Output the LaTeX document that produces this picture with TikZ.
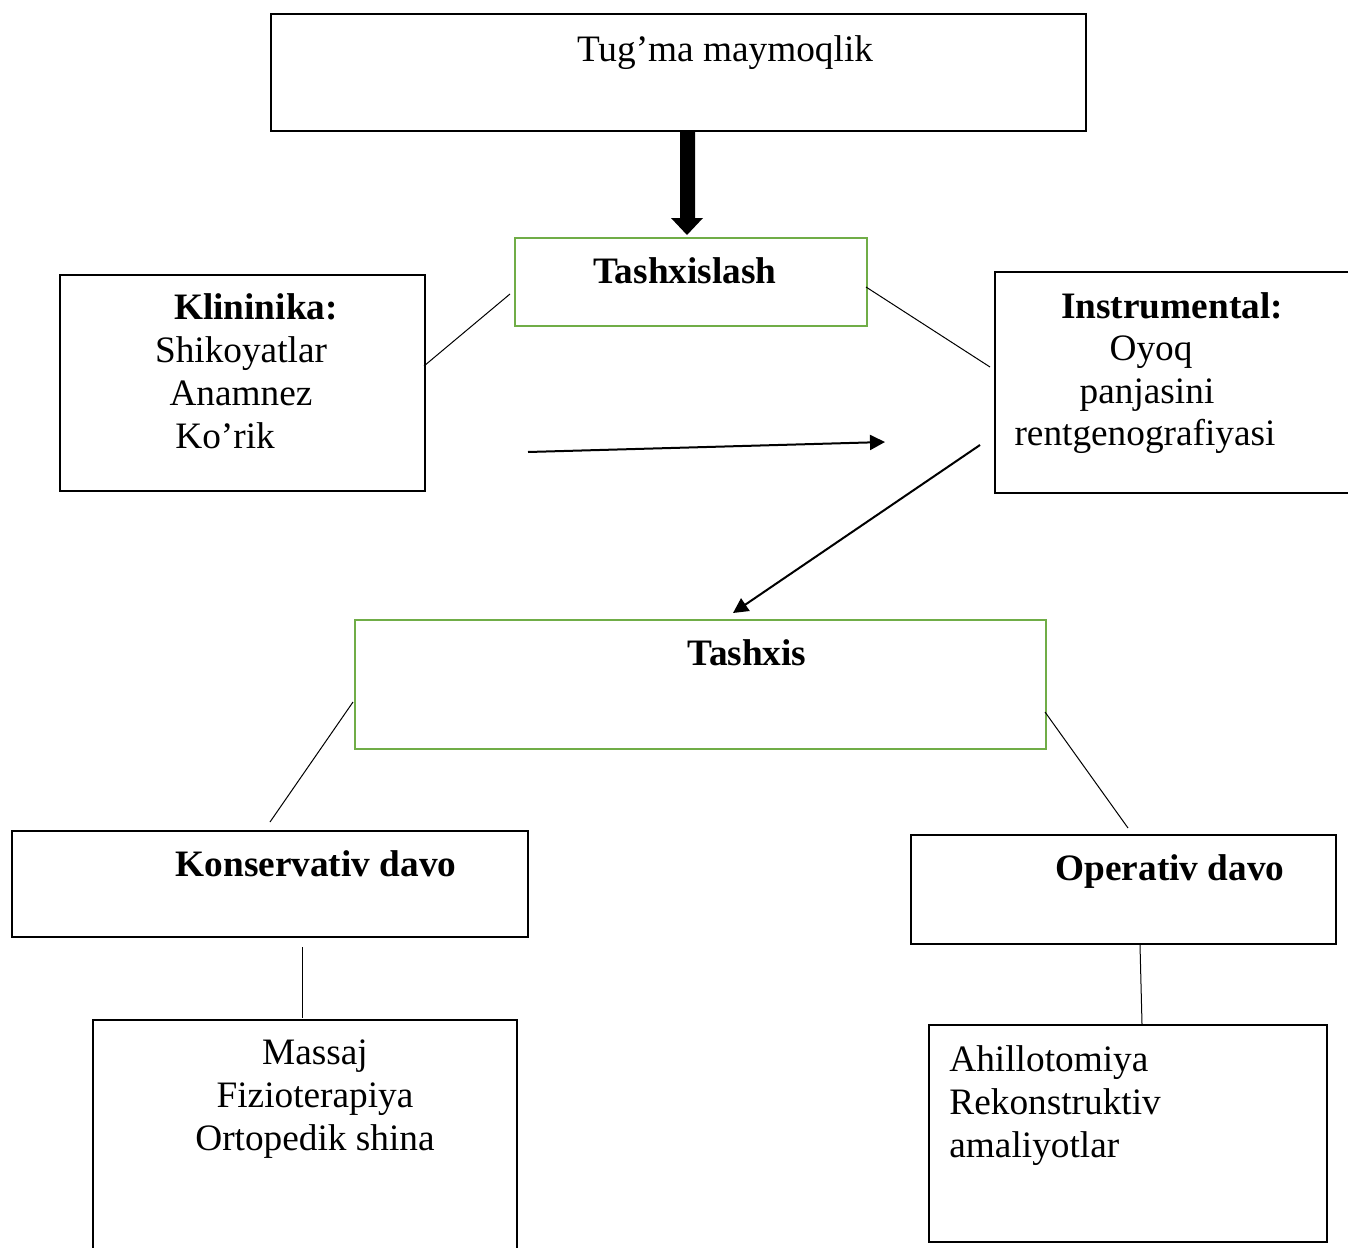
\documentclass[tikz,border=0pt]{standalone}
\usepackage{fontspec}
\setmainfont{Liberation Serif}
\usetikzlibrary{arrows.meta}
\definecolor{boxgreen}{RGB}{112,173,71}
\begin{document}
\begin{tikzpicture}[x=0.5pt,y=-0.5pt,
  font=\fontsize{18.65}{21.5}\selectfont,
  box/.style={draw=black, line width=1pt, inner sep=0pt, anchor=north west},
  gbox/.style={draw=boxgreen, line width=1pt, inner sep=0pt, anchor=north west},
  txt/.style={anchor=base, inner sep=0pt},
  ltxt/.style={anchor=base west, inner sep=0pt},
  thinline/.style={line width=0.5pt},
  arr/.style={line width=1pt, -{Triangle[length=7.5pt,width=7.5pt]}}]
\useasboundingbox (0,0) rectangle (1348,1247);
\clip (0,0) rectangle (1348,1247);
\fill[white] (0,0) rectangle (1348,1247);

% boxes
\node[box, minimum width=407.5pt, minimum height=58pt] (top) at (269.5,13.5) {};
\node[gbox, minimum width=176pt, minimum height=44pt] (tsl) at (513.5,236.5) {};
\node[box, minimum width=182.5pt, minimum height=108pt] (klin) at (58.5,273.5) {};
\node[box, minimum width=183pt, minimum height=110.5pt] (instr) at (993.5,270.5) {};
\node[gbox, minimum width=345.5pt, minimum height=64.5pt] (tsx) at (353.5,618.5) {};
\node[box, minimum width=258pt, minimum height=53pt] (kons) at (10.5,829.5) {};
\node[box, minimum width=212.5pt, minimum height=54.5pt] (oper) at (909.5,833.5) {};
\node[box, minimum width=212pt, minimum height=125.5pt] (mass) at (91.5,1018.5) {};
\node[box, minimum width=199pt, minimum height=108.5pt] (ahil) at (927.5,1023.5) {};

% texts
\node[txt] (t1) at (725,61.5) {Tug’ma maymoqlik};
\node[txt] (t2) at (685,283.5) {\bfseries Tashxislash};
\node[txt] (k1) at (256,319.5) {\bfseries Klininika:};
\node[txt] (k2) at (241,362.5) {Shikoyatlar};
\node[txt] (k3) at (241,405.5) {Anamnez};
\node[ltxt] (k4) at (175,448.5) {Ko’rik};
\node[txt] (i1) at (1172,318.5) {\bfseries Instrumental:};
\node[txt] (i2) at (1151,360.5) {Oyoq};
\node[txt] (i3) at (1147,403.5) {panjasini};
\node[txt] (i4) at (1145,445.5) {rentgenografiyasi};
\node[txt] (x1) at (747,665.5) {\bfseries Tashxis};
\node[txt] (ko1) at (316,876.5) {\bfseries Konservativ davo};
\node[txt] (o1) at (1170,880.5) {\bfseries Operativ davo};
\node[txt] (m1) at (315,1064.5) {Massaj};
\node[txt] (m2) at (315,1107.5) {Fizioterapiya};
\node[txt] (m3) at (315,1150.5) {Ortopedik shina};
\node[ltxt] (a1) at (949,1071) {Ahillotomiya};
\node[ltxt] (a2) at (949,1114) {Rekonstruktiv};
\node[ltxt] (a3) at (949,1157) {amaliyotlar};

% thick block arrow
\fill[black] (680,131) -- (695,131) -- (695,218) -- (703,218) -- (687,235)
  -- (671,218) -- (680,218) -- cycle;

% connector end points
\coordinate (p1) at (424,366);  \coordinate (p2) at (510,294);
\coordinate (p3) at (866,287);  \coordinate (p4) at (990,367);
\coordinate (p5) at (528,452);  \coordinate (p6) at (885,442);
\coordinate (p7) at (980,445);  \coordinate (p8) at (733,613);
\coordinate (p9) at (353,702);  \coordinate (p10) at (270,822);
\coordinate (p11) at (1045,712); \coordinate (p12) at (1128,828);
\coordinate (p13) at (302,947); \coordinate (p14) at (302,1018);
\coordinate (p15) at (1140,945); \coordinate (p16) at (1142,1024);

\draw[thinline] (p1) -- (p2);
\draw[thinline] (p3) -- (p4);
\draw[arr] (p5) -- (p6);
\draw[arr] (p7) -- (p8);
\draw[thinline] (p9) -- (p10);
\draw[thinline] (p11) -- (p12);
\draw[thinline] (p13) -- (p14);
\draw[thinline] (p15) -- (p16);
\end{tikzpicture}
\end{document}
